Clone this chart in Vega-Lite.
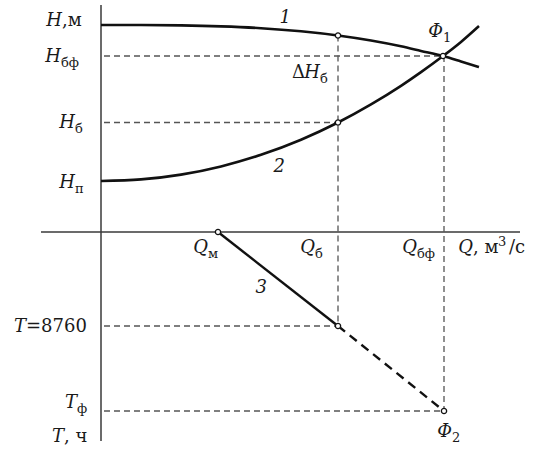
{
  "$schema": "https://vega.github.io/schema/vega-lite/v6.json",
  "autosize": {"type": "fit", "contains": "padding"},
  "width": 538,
  "height": 449,
  "padding": 0,
  "background": "white",
  "config": {"view": {"stroke": null}},
  "datasets": {
    "axes": [
      {"x": -60, "y": 0, "x2": 419, "y2": 0},
      {"x": 0, "y": 227, "x2": 0, "y2": -209}
    ],
    "guides": [
      {"x": 3, "y": 176, "x2": 342, "y2": 176},
      {"x": 3, "y": 109.5, "x2": 237, "y2": 109.5},
      {"x": 3, "y": -94, "x2": 237, "y2": -94},
      {"x": 3, "y": -179, "x2": 343, "y2": -179},
      {"x": 237, "y": 196.5, "x2": 237, "y2": -94},
      {"x": 343, "y": 176, "x2": 343, "y2": -179}
    ],
    "curves": [
      {"s": "1", "x": 0, "y": 207}, {"s": "1", "x": 40, "y": 206.95}, {"s": "1", "x": 80, "y": 206.6},
      {"s": "1", "x": 120, "y": 205.6}, {"s": "1", "x": 160, "y": 203.8}, {"s": "1", "x": 200, "y": 200.7},
      {"s": "1", "x": 237, "y": 196.5}, {"s": "1", "x": 270, "y": 191.5}, {"s": "1", "x": 300, "y": 185.7},
      {"s": "1", "x": 320, "y": 181.1}, {"s": "1", "x": 342, "y": 176}, {"s": "1", "x": 360, "y": 170.6},
      {"s": "1", "x": 378, "y": 165},
      {"s": "2", "x": 0, "y": 51}, {"s": "2", "x": 40, "y": 52.6}, {"s": "2", "x": 80, "y": 57.4},
      {"s": "2", "x": 120, "y": 65.6}, {"s": "2", "x": 160, "y": 77.2}, {"s": "2", "x": 200, "y": 92.3},
      {"s": "2", "x": 237, "y": 109.5}, {"s": "2", "x": 270, "y": 127.6}, {"s": "2", "x": 300, "y": 146.2},
      {"s": "2", "x": 320, "y": 159.9}, {"s": "2", "x": 342, "y": 176}, {"s": "2", "x": 360, "y": 190.1},
      {"s": "2", "x": 378, "y": 206}
    ],
    "line3solid": [{"x": 117, "y": 0}, {"x": 237, "y": -94}],
    "line3dash": [{"x": 237, "y": -94}, {"x": 343, "y": -179}],
    "points": [
      {"x": 237, "y": 196.5}, {"x": 237, "y": 109.5}, {"x": 342, "y": 176},
      {"x": 117, "y": 0}, {"x": 237, "y": -94}, {"x": 343, "y": -179}
    ],
    "labels": [
      {"x": -39, "y": 206, "it": "H", "up": ",м"},
      {"x": -40, "y": 170, "it": "H", "sub": "бф"},
      {"x": -26, "y": 104, "it": "H", "sub": "б"},
      {"x": -26, "y": 44, "it": "H", "sub": "п"},
      {"x": -75, "y": -100, "it": "T", "up": "=8760"},
      {"x": -24, "y": -176, "it": "T", "sub": "ф"},
      {"x": -37, "y": -210, "it": "T", "up": ", ч"},
      {"x": 190, "y": 209, "it": "1"},
      {"x": 184, "y": 60, "it": "2"},
      {"x": 166, "y": -61, "it": "3"},
      {"x": 342, "y": 195, "it": "Φ", "sub": "1"},
      {"x": 191, "y": 154, "up": "Δ"},
      {"x": 219, "y": 154, "it": "H", "sub": "б"},
      {"x": 107, "y": -21, "it": "Q", "sub": "м"},
      {"x": 214, "y": -21, "it": "Q", "sub": "б"},
      {"x": 316, "y": -21, "it": "Q", "sub": "бф"},
      {"x": 372, "y": -21, "it": "Q", "up": ", м"},
      {"x": 397, "y": -21, "sup": "3"},
      {"x": 408, "y": -21, "up": "/с"},
      {"x": 351, "y": -205, "it": "Φ", "sub": "2"}
    ]
  },
  "encoding": {
    "x": {"field": "x", "type": "quantitative", "scale": {"domain": [-101, 437], "nice": false, "zero": false}, "axis": null},
    "y": {"field": "y", "type": "quantitative", "scale": {"domain": [-217, 232], "nice": false, "zero": false}, "axis": null}
  },
  "layer": [
    {
      "data": {"name": "axes"},
      "mark": {"type": "rule", "color": "#3a3a3a", "strokeWidth": 1.5},
      "encoding": {"x2": {"field": "x2"}, "y2": {"field": "y2"}}
    },
    {
      "data": {"name": "guides"},
      "mark": {"type": "rule", "color": "#555555", "strokeWidth": 1.3, "strokeDash": [6, 4]},
      "encoding": {"x2": {"field": "x2"}, "y2": {"field": "y2"}}
    },
    {
      "data": {"name": "curves"},
      "mark": {"type": "line", "color": "#111111", "strokeWidth": 2.6, "interpolate": "monotone"},
      "encoding": {"detail": {"field": "s"}, "order": {"field": "x", "type": "quantitative"}}
    },
    {
      "data": {"name": "line3solid"},
      "mark": {"type": "line", "color": "#111111", "strokeWidth": 2.4},
      "encoding": {}
    },
    {
      "data": {"name": "line3dash"},
      "mark": {"type": "line", "color": "#111111", "strokeWidth": 2.4, "strokeDash": [9, 6]},
      "encoding": {}
    },
    {
      "data": {"name": "points"},
      "mark": {"type": "point", "shape": "circle", "filled": true, "fill": "white", "stroke": "#111111", "strokeWidth": 1.3, "size": 28, "opacity": 1},
      "encoding": {}
    },
    {
      "data": {"name": "labels"},
      "transform": [{"filter": "datum.it"}],
      "mark": {"type": "text", "font": "DejaVu Serif", "fontStyle": "italic", "fontSize": 18, "align": "right", "baseline": "alphabetic", "color": "#1a1a1a"},
      "encoding": {"text": {"field": "it"}}
    },
    {
      "data": {"name": "labels"},
      "transform": [{"filter": "datum.up"}],
      "mark": {"type": "text", "font": "DejaVu Serif", "fontSize": 18, "align": "left", "baseline": "alphabetic", "color": "#1a1a1a"},
      "encoding": {"text": {"field": "up"}}
    },
    {
      "data": {"name": "labels"},
      "transform": [{"filter": "datum.sub"}],
      "mark": {"type": "text", "font": "DejaVu Serif", "fontSize": 13, "align": "left", "baseline": "alphabetic", "dy": 5, "color": "#1a1a1a"},
      "encoding": {"text": {"field": "sub"}}
    },
    {
      "data": {"name": "labels"},
      "transform": [{"filter": "datum.sup"}],
      "mark": {"type": "text", "font": "DejaVu Serif", "fontSize": 13, "align": "left", "baseline": "alphabetic", "dy": -7, "color": "#1a1a1a"},
      "encoding": {"text": {"field": "sup"}}
    }
  ]
}
